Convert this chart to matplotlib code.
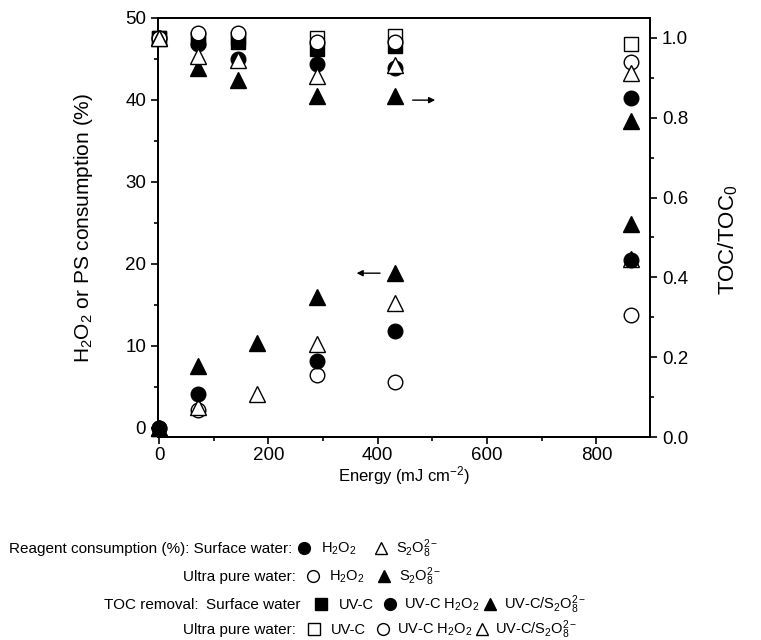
import matplotlib
matplotlib.use("Agg")
import matplotlib.pyplot as plt
import numpy as np
from matplotlib.ticker import MultipleLocator

# ---------------- data ----------------
energy = [0, 72, 144, 288, 432, 864]
energy_ps = [0, 72, 180, 288, 432, 864]

# Reagent consumption (%) - left axis
sw_h2o2_cons = [0, 4.2, np.nan, 8.2, 11.8, 20.5]      # surface water H2O2 (filled circle)
up_h2o2_cons = [0, 2.2, np.nan, 6.5, 5.6, 13.8]       # ultra pure H2O2 (open circle)
sw_ps_cons = [0, 2.6, 4.2, 10.3, 15.2, 20.6]          # surface water S2O8 (open triangle)
up_ps_cons = [0, 7.5, 10.4, 16.0, 18.9, 24.9]         # ultra pure S2O8 (filled triangle)

# TOC/TOC0 - right axis
sw_uvc_toc = [1.0, 0.995, 0.99, 0.972, 0.98, np.nan]
up_uvc_toc = [1.0, 1.0, 1.0, 1.0, 1.005, 0.985]
sw_h2o2_toc = [1.0, 0.985, 0.947, 0.935, 0.925, 0.85]
up_h2o2_toc = [1.0, 1.012, 1.012, 0.99, 0.99, 0.94]
sw_ps_toc = [1.0, 0.955, 0.945, 0.905, 0.933, 0.912]
up_ps_toc = [1.0, 0.925, 0.895, 0.855, 0.855, 0.793]

right_ticks = [0.0, 0.2, 0.4, 0.6, 0.8, 1.0]
right_ticklabels = ['0.0', '0.2', '0.4', '0.6', '0.8', '1.0']

# ---------------- fonts ----------------
plt.rcParams['font.family'] = ['Liberation Sans', 'DejaVu Sans']
plt.rcParams['mathtext.fontset'] = 'custom'
plt.rcParams['mathtext.rm'] = 'Liberation Sans'
plt.rcParams['mathtext.it'] = 'Liberation Sans'
plt.rcParams['mathtext.bf'] = 'Liberation Sans:bold'
plt.rcParams['mathtext.default'] = 'regular'

fig = plt.figure(figsize=(7.61, 6.4), dpi=100)
ax = fig.add_axes([158 / 761, 1 - 437 / 640, (650 - 158) / 761, (437 - 18) / 640])
ax2 = ax.twinx()

ms_c = 10.5
ms_t = 11
ms_s = 10
open_kw = dict(mfc='white', mec='black', mew=1.0, ls='none', clip_on=False)
fill_kw = dict(mfc='black', mec='black', mew=1.0, ls='none', clip_on=False)

# TOC (right axis)
ax2.plot(energy, sw_uvc_toc, marker='s', ms=ms_s, zorder=3, **fill_kw)
ax2.plot(energy, up_uvc_toc, marker='s', ms=ms_s, zorder=2, **open_kw)
ax2.plot(energy, sw_h2o2_toc, marker='o', ms=ms_c, zorder=4, **fill_kw)
ax2.plot(energy, up_h2o2_toc, marker='o', ms=ms_c, zorder=5, **open_kw)
ax2.plot(energy, up_ps_toc, marker='^', ms=ms_t, zorder=6, **fill_kw)
ax2.plot(energy, sw_ps_toc, marker='^', ms=ms_t, zorder=7, **open_kw)

# Consumption (left axis)
ax.plot(energy_ps, sw_ps_cons, marker='^', ms=ms_t, zorder=3, **open_kw)
ax.plot(energy, sw_h2o2_cons, marker='o', ms=ms_c, zorder=4, **fill_kw)
ax.plot(energy, up_h2o2_cons, marker='o', ms=ms_c, zorder=2, **open_kw)
ax.plot(energy_ps, up_ps_cons, marker='^', ms=ms_t, zorder=5, **fill_kw)

ax.set_xlim(-2, 898)
ax.set_ylim(-1.1, 50)
ax2.set_ylim(0, 1.05)

ax.xaxis.set_major_locator(MultipleLocator(200))
ax.xaxis.set_minor_locator(MultipleLocator(100))
ax.yaxis.set_major_locator(MultipleLocator(10))
ax.yaxis.set_minor_locator(MultipleLocator(5))
ax2.set_yticks(right_ticks)
ax2.set_yticklabels(right_ticklabels)
ax2.yaxis.set_minor_locator(MultipleLocator(0.1))

for a in (ax, ax2):
    a.tick_params(which='major', direction='out', length=5, width=1.2, labelsize=13.5)
    a.tick_params(which='minor', direction='out', length=3, width=1.2)
    for s in a.spines.values():
        s.set_linewidth(1.3)
ax.tick_params(which='both', top=False, right=False)
ax.tick_params(axis='x', pad=2.5)
ax2.tick_params(which='both', top=False, left=False)

ax.set_xlabel('Energy (mJ cm$^{-2}$)', fontsize=12, labelpad=0)
ax.set_ylabel('H$_2$O$_2$ or PS consumption (%)', fontsize=15, labelpad=22)
ax2.set_ylabel('TOC/TOC$_0$', fontsize=16, labelpad=20)
ax2.yaxis.set_label_coords(1.135, 0.47)

# arrows
ax.annotate('', xy=(0.569, 0.804), xytext=(0.512, 0.804), xycoords='axes fraction',
            arrowprops=dict(arrowstyle='-|>', color='black', lw=1, mutation_scale=9))
ax.annotate('', xy=(0.398, 0.391), xytext=(0.457, 0.391), xycoords='axes fraction',
            arrowprops=dict(arrowstyle='-|>', color='black', lw=1, mutation_scale=9))

# ---------------- legend (text block under the chart) ----------------
lg = fig.add_axes([0, 0, 1, 1], facecolor='none')
lg.set_xlim(0, 761)
lg.set_ylim(640, 0)
lg.axis('off')

LAB = 11
ITM = 10.5

def t(x, y, s, ha='left', size=ITM):
    lg.text(x, y, s, fontsize=size, ha=ha, va='baseline')

def m(x, y, marker, filled):
    kw = fill_kw if filled else open_kw
    lg.plot([x], [y - 5], marker=marker, ms=8.5 if marker != 's' else 8, **kw)

h2o2 = 'H$_2$O$_2$'
s2o8 = 'S$_2$O$_8^{2-}$'
rows = [553, 581, 609, 634]
# row 1
t(292, rows[0], 'Reagent consumption (%): Surface water:', ha='right', size=LAB)
m(304, rows[0], 'o', True); t(321, rows[0], h2o2)
m(381, rows[0], '^', False); t(396, rows[0], s2o8)
# row 2
t(296, rows[1], 'Ultra pure water:', ha='right', size=LAB)
m(313, rows[1], 'o', False); t(329, rows[1], h2o2)
m(384, rows[1], '^', True); t(399, rows[1], s2o8)
# row 3
t(199, rows[2], 'TOC removal:', ha='right', size=LAB)
t(301, rows[2], 'Surface water', ha='right', size=LAB)
m(321, rows[2], 's', True); t(339, rows[2], 'UV-C')
m(390, rows[2], 'o', True); t(404, rows[2], 'UV-C ' + h2o2)
m(490, rows[2], '^', True); t(504, rows[2], 'UV-C/' + s2o8)
# row 4
t(296, rows[3], 'Ultra pure water:', ha='right', size=LAB)
m(314, rows[3], 's', False); t(331, rows[3], 'UV-C')
m(383, rows[3], 'o', False); t(397, rows[3], 'UV-C ' + h2o2)
m(482, rows[3], '^', False); t(495, rows[3], 'UV-C/' + s2o8)

fig.savefig('out.png', dpi=100)
